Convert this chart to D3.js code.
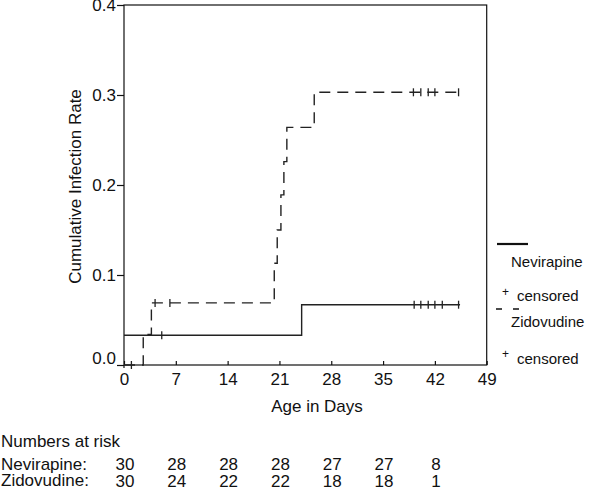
<!DOCTYPE html>
<html>
<head>
<meta charset="utf-8">
<script src="https://cdn.jsdelivr.net/npm/d3@7"></script>
<style>
  html, body { margin: 0; padding: 0; background: #fff; }
  svg { display: block; }
  text { font-family: "Liberation Sans", Arial, Helvetica, sans-serif; fill: #111; }
</style>
</head>
<body>
<svg id="chart" width="600" height="489"></svg>
<script>
// ---- data ----
const xTicks = [0, 7, 14, 21, 28, 35, 42, 49];
const yTicks = [0.0, 0.1, 0.2, 0.3, 0.4];

// Nevirapine (solid): step times and cumulative rate after each step
const nevStart = 0.033;
const nevTimes = [24.0];
const nevValues = [0.067];
const nevEnd = 45.4;
const nevCensorTimes = [5.1, 39.2, 40.1, 41.1, 42.0, 43.0, 45.2];

// Zidovudine (dashed)
const zidStart = 0.0;
const zidTimes = [2.6, 3.7, 20.3, 20.7, 21.2, 21.6, 22.0, 25.7];
const zidValues = [0.034, 0.069, 0.113, 0.150, 0.189, 0.226, 0.264, 0.303];
const zidEnd = 45.5;
const zidCensorTimes = [1.0, 4.2, 6.2, 39.1, 40.1, 41.1, 42.0, 45.2];

// Numbers at risk
const riskDays = [0, 7, 14, 21, 28, 35, 42];
const riskNevirapine = [30, 28, 28, 28, 27, 27, 8];
const riskZidovudine = [30, 24, 22, 22, 18, 18, 1];

// ---- drawing ----
const svg = d3.select("#chart");
const x = d3.scaleLinear().domain([0, 49]).range([124, 486.7]);
const y = d3.scaleLinear().domain([0, 0.4]).range([365, 5]);
const ink = "#111";

// step function builder
function stepPoints(start, times, values, end) {
  const pts = [[0, start]];
  let cur = start;
  times.forEach((t, i) => { pts.push([t, cur]); pts.push([t, values[i]]); cur = values[i]; });
  pts.push([end, cur]);
  return pts;
}
function valueAt(start, times, values, t) {
  let v = start;
  times.forEach((tt, i) => { if (tt <= t) v = values[i]; });
  return v;
}
const line = d3.line().x(d => x(d[0])).y(d => y(d[1]));

// axes
const yAxis = d3.axisLeft(y).tickValues(yTicks).tickFormat(d3.format(".1f"))
  .tickSizeInner(7).tickSizeOuter(0).tickPadding(1);
const gy = svg.append("g").attr("transform", `translate(${x(0)},0)`).call(yAxis);
gy.selectAll("text").style("font-size", "17px").attr("fill", ink);
gy.selectAll("line").attr("stroke", ink).attr("stroke-width", 1.2);
gy.select(".domain").remove();
gy.selectAll(".tick").filter(d => d === 0).select("text").attr("y", -7);

const xAxis = d3.axisBottom(x).tickValues(xTicks).tickFormat(d3.format("d"))
  .tickSizeInner(-4).tickSizeOuter(0).tickPadding(8);
const gx = svg.append("g").attr("transform", `translate(0,${y(0)})`).call(xAxis);
gx.selectAll("text").style("font-size", "17px").attr("fill", ink);
gx.selectAll("line").attr("stroke", ink).attr("stroke-width", 1.2);
gx.select(".domain").remove();

// frame
svg.append("rect")
  .attr("x", x(0)).attr("y", y(0.4))
  .attr("width", x(49) - x(0)).attr("height", y(0) - y(0.4))
  .attr("fill", "none").attr("stroke", ink).attr("stroke-width", 1.2);
svg.append("line").attr("x1", x(0)).attr("x2", x(0)).attr("y1", y(0)).attr("y2", y(0) + 3)
  .attr("stroke", ink).attr("stroke-width", 1.2);

// curves
svg.append("path")
  .attr("d", line(stepPoints(nevStart, nevTimes, nevValues, nevEnd)))
  .attr("fill", "none").attr("stroke", "#222").attr("stroke-width", 1.4);
svg.append("path")
  .attr("d", line(stepPoints(zidStart, zidTimes, zidValues, zidEnd)))
  .attr("fill", "none").attr("stroke", "#222").attr("stroke-width", 1.4)
  .attr("stroke-dasharray", "11,7");

// censor marks
function censors(times, start, tt, vv) {
  svg.append("g").selectAll("line").data(times).join("line")
    .attr("x1", d => x(d)).attr("x2", d => x(d))
    .attr("y1", d => y(valueAt(start, tt, vv, d)) - 4)
    .attr("y2", d => y(valueAt(start, tt, vv, d)) + 4)
    .attr("stroke", "#222").attr("stroke-width", 1.3);
}
censors(nevCensorTimes, nevStart, nevTimes, nevValues);
censors(zidCensorTimes, zidStart, zidTimes, zidValues);

// axis titles
svg.append("text").attr("x", 317).attr("y", 412).attr("text-anchor", "middle")
  .style("font-size", "17px").text("Age in Days");
svg.append("text").attr("transform", "translate(81,186.5) rotate(-90)")
  .attr("text-anchor", "middle").style("font-size", "17px").text("Cumulative Infection Rate");

// legend
const lg = svg.append("g");
lg.append("line").attr("x1", 497).attr("x2", 528).attr("y1", 244).attr("y2", 244)
  .attr("stroke", "#111").attr("stroke-width", 2.2);
lg.append("text").attr("x", 511).attr("y", 267).style("font-size", "15px").text("Nevirapine");
lg.append("text").attr("x", 505.5).attr("y", 296).attr("text-anchor", "middle").style("font-size", "12px").text("+");
lg.append("text").attr("x", 517).attr("y", 301).style("font-size", "15px").text("censored");
lg.append("line").attr("x1", 496).attr("x2", 520).attr("y1", 309).attr("y2", 309)
  .attr("stroke", "#111").attr("stroke-width", 1.4).attr("stroke-dasharray", "6,11");
lg.append("text").attr("x", 511).attr("y", 327).style("font-size", "15px").text("Zidovudine");
lg.append("text").attr("x", 505.5).attr("y", 358).attr("text-anchor", "middle").style("font-size", "12px").text("+");
lg.append("text").attr("x", 517).attr("y", 364).style("font-size", "15px").text("censored");

// numbers at risk
svg.append("text").attr("x", 1).attr("y", 447).style("font-size", "17px").text("Numbers at risk");
svg.append("text").attr("x", 1).attr("y", 470).style("font-size", "17px").text("Nevirapine:");
svg.append("text").attr("x", 1).attr("y", 486).style("font-size", "17px").text("Zidovudine:");
svg.append("g").selectAll("text").data(riskNevirapine).join("text")
  .attr("x", (d, i) => x(riskDays[i]) + 1).attr("y", 470)
  .attr("text-anchor", "middle").style("font-size", "17px").text(d => d);
svg.append("g").selectAll("text").data(riskZidovudine).join("text")
  .attr("x", (d, i) => x(riskDays[i]) + 1).attr("y", 487)
  .attr("text-anchor", "middle").style("font-size", "17px").text(d => d);
</script>
</body>
</html>
